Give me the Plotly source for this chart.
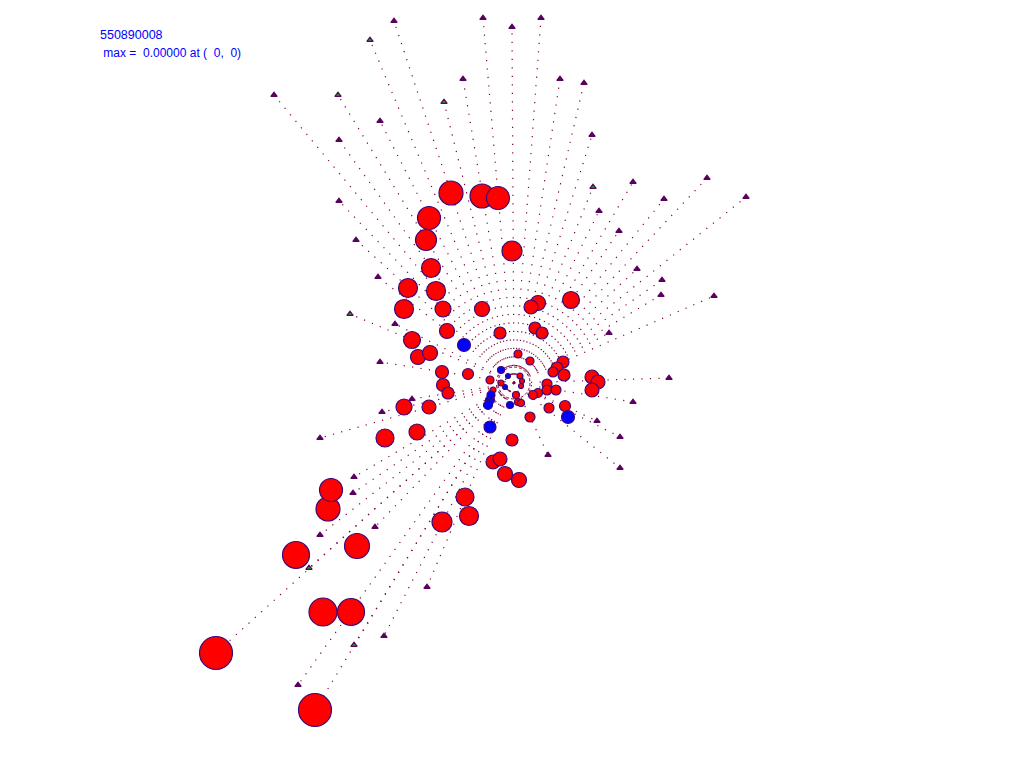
import plotly.graph_objects as go

# ---- data (picture coordinates) ----
center_x = 514
center_y = 383
ring_r = 16

title_id = "550890008"
max_label = " max =  0.00000 at (  0,  0)"

tri_x = [394, 483, 512, 541, 370, 463, 560, 584, 444, 274, 338, 380, 339, 592, 707, 746,
         633, 593, 664, 339, 599, 356, 619, 637, 378, 662, 714, 661, 350, 395, 609, 669,
         633, 620, 620, 548, 597, 380, 382, 412, 320, 354, 353, 375, 320, 309, 427, 384,
         354, 298]
tri_y = [21, 18, 27, 18, 40, 79, 79, 83, 102, 95, 95, 121, 140, 135, 178, 197,
         182, 187, 199, 201, 211, 240, 231, 269, 277, 280, 296, 295, 314, 324, 333, 378,
         402, 437, 468, 455, 421, 362, 412, 399, 438, 477, 493, 527, 535, 568, 587, 636,
         645, 685]
tri_green = [0, 0, 0, 0, 1, 0, 0, 0, 1, 0, 1, 0, 0, 0, 0, 0,
             0, 1, 0, 0, 0, 0, 0, 0, 0, 0, 0, 0, 1, 0, 0, 0,
             0, 0, 0, 0, 0, 0, 0, 0, 0, 0, 0, 0, 0, 1, 0, 0,
             1, 0]

extra_end_x = [216, 315]
extra_end_y = [653, 710]

red_x = [216, 315, 296, 323, 351, 331, 328, 357, 442, 469, 465, 451, 482, 498, 429, 426,
         512, 431, 408, 436, 404, 443, 482, 571, 538, 531, 447, 412, 418, 430, 500, 535,
         542, 442, 468, 443, 448, 404, 429, 385, 417, 512, 493, 500, 505, 519, 563, 557,
         553, 564, 592, 598, 592, 547, 547, 556, 538, 533, 549, 565, 530, 518, 530, 490,
         520, 522, 501, 521, 493, 516, 518, 521]
red_y = [653, 710, 555, 612, 612, 490, 509, 546, 522, 516, 497, 193, 196, 198, 218, 240,
         251, 268, 288, 291, 309, 309, 309, 300, 303, 307, 331, 340, 357, 353, 333, 328,
         333, 372, 374, 385, 393, 407, 407, 438, 432, 440, 462, 459, 474, 480, 362, 368,
         372, 375, 377, 382, 390, 384, 390, 390, 393, 395, 408, 406, 417, 354, 361, 380,
         376, 381, 383, 386, 390, 395, 402, 403]
red_d = [33, 33, 27, 28, 27, 23, 24, 25, 20, 19, 18, 24, 24, 23, 23, 21,
         20, 19, 19, 19, 19, 16, 15, 17, 15, 14, 15, 17, 15, 15, 12, 12,
         12, 13, 11, 13, 12, 16, 14, 18, 16, 12, 14, 14, 15, 15, 12, 12,
         10, 12, 14, 14, 14, 10, 10, 10, 9, 9, 10, 11, 10, 8, 8, 8,
         6, 5, 6, 5, 6, 7, 7, 7]

blue_x = [464, 490, 568, 501, 508, 505, 491, 490, 488, 510]
blue_y = [345, 427, 417, 370, 376, 387, 395, 400, 405, 405]
blue_d = [13, 12, 13, 7, 5, 5, 8, 9, 9, 7]

# ---- figure ----
line_col = "#800040"
edge_col = "#3c0878"
tri_col = "#5a0060"

fig = go.Figure()

# radial dotted lines from the centre to every end point
lx, ly = [], []
for ex, ey in list(zip(tri_x, tri_y)) + list(zip(extra_end_x, extra_end_y)):
    lx += [center_x, ex, None]
    ly += [center_y, ey, None]
fig.add_trace(go.Scatter(x=lx, y=ly, mode="lines",
                         line=dict(color=line_col, width=1.2, dash="1.2px,7.3px"),
                         hoverinfo="skip"))

# triangles
fig.add_trace(go.Scatter(
    x=tri_x, y=tri_y, mode="markers",
    marker=dict(symbol="triangle-up", size=5.5,
                color=["#00b000" if g else tri_col for g in tri_green],
                line=dict(color=tri_col, width=1.2))))

# circles, largest first
def add_circles(xs, ys, ds, fill):
    order = sorted(range(len(xs)), key=lambda i: -ds[i])
    fig.add_trace(go.Scatter(
        x=[xs[i] for i in order], y=[ys[i] for i in order], mode="markers",
        marker=dict(symbol="circle", size=[ds[i] for i in order], color=fill,
                    opacity=1, line=dict(color=edge_col, width=1.2))))

add_circles(red_x, red_y, red_d, "#ff0000")
add_circles(blue_x, blue_y, blue_d, "#0000ff")

# small dashed ring round the centre
fig.add_shape(type="circle", xref="x", yref="y",
              x0=center_x - ring_r, x1=center_x + ring_r,
              y0=center_y - ring_r, y1=center_y + ring_r,
              line=dict(color=line_col, width=1, dash="3px,2px"))

fig.add_annotation(x=98, y=35, xref="x", yref="y", text=title_id, showarrow=False,
                   xanchor="left", yanchor="middle",
                   font=dict(family="Liberation Sans, Arial", size=12.5, color="#0000ff"))
fig.add_annotation(x=98, y=53, xref="x", yref="y", text=max_label.replace(" ", "&nbsp;"),
                   showarrow=False, xanchor="left", yanchor="middle",
                   font=dict(family="Liberation Sans, Arial", size=12, color="#0000ff"))

fig.update_layout(width=1024, height=768, margin=dict(l=0, r=0, t=0, b=0),
                  paper_bgcolor="white", plot_bgcolor="white", showlegend=False,
                  xaxis=dict(range=[0, 1024], visible=False, fixedrange=True),
                  yaxis=dict(range=[768, 0], visible=False, fixedrange=True))

fig.write_html("out.html", config={"displayModeBar": False},
               post_script="document.body.style.margin='0';document.body.style.overflow='hidden';")
